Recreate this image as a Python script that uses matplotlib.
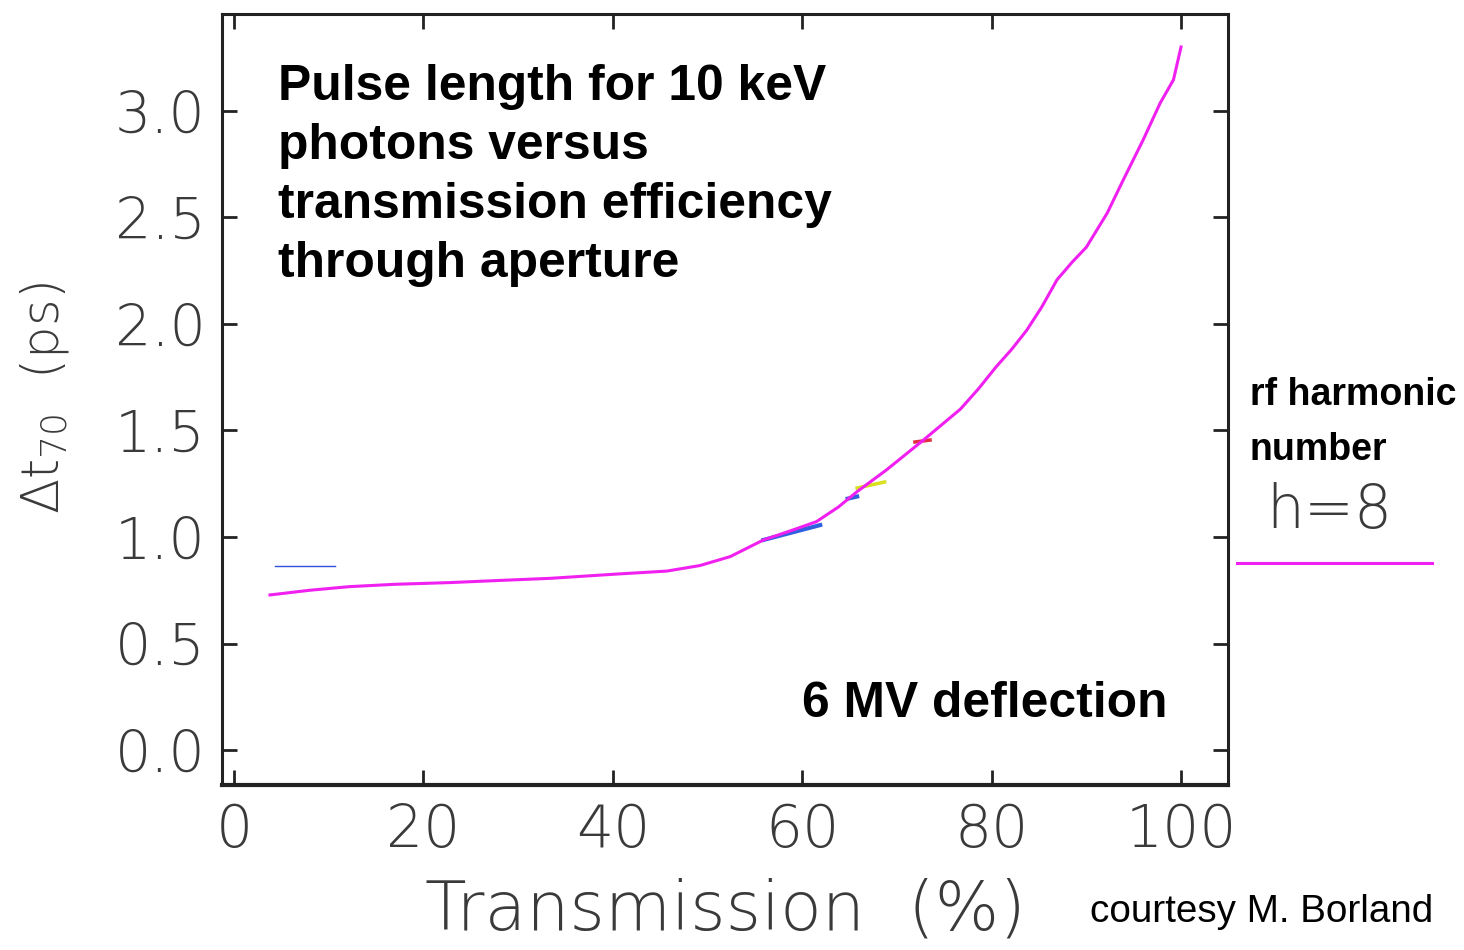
import matplotlib.pyplot as plt
from matplotlib.lines import Line2D

# pulse length vs transmission, h=8 curve
transmission = [3.8, 8, 12.2, 17, 22.8, 28, 33.4, 40.4, 45.7, 49.2, 52.4, 55.9,
                58.7, 61.5, 63.8, 65.8, 68.9, 72.8, 76.7, 78.6, 80.5, 82.1, 83.7,
                85.3, 86.9, 88.5, 90.0, 92.2, 93.9, 96.0, 97.8, 99.2, 100]
dt70 = [0.728, 0.75, 0.767, 0.778, 0.786, 0.796, 0.806, 0.826, 0.840, 0.866,
        0.908, 0.986, 1.028, 1.072, 1.14, 1.213, 1.315, 1.455, 1.60, 1.695, 1.80,
        1.88, 1.97, 2.08, 2.207, 2.29, 2.36, 2.52, 2.676, 2.864, 3.037, 3.146, 3.30]

# short pieces of the other harmonics that peek out from under the h=8 curve
blue_x = [[4.3, 10.7], [55.9, 61.9], [64.8, 65.8]]
blue_y = [[0.864, 0.864], [0.986, 1.056], [1.18, 1.19]]
yellow_x = [65.8, 68.7]
yellow_y = [1.23, 1.258]
red_x = [71.9, 73.5]
red_y = [1.446, 1.455]

xticks = [0, 20, 40, 60, 80, 100]
yticks = [0.0, 0.5, 1.0, 1.5, 2.0, 2.5, 3.0]

thin = dict(family=['DejaVu Sans'], fontweight=200, color='#3a3a3a')
bold = dict(family=['Liberation Sans', 'DejaVu Sans'], fontweight='bold', color='black')

fig = plt.figure(figsize=(14.64, 9.5), dpi=100)
ax = fig.add_axes([0.1516, 0.1737, 0.6872, 0.8116])

ax.plot(blue_x[0], blue_y[0], color='#3050e0', lw=1.0)
for bx, by in zip(blue_x[1:], blue_y[1:]):
    ax.plot(bx, by, color='#3060e0', lw=3.0)
ax.plot(yellow_x, yellow_y, color='#d8e020', lw=2.5)
ax.plot(red_x, red_y, color='#e03040', lw=2.5)
ax.plot(transmission, dt70, color='#f020f0', lw=2.2)

ax.set_xlim(-1.27, 104.96)
ax.set_ylim(-0.164, 3.455)
ax.set_xticks(xticks)
ax.set_yticks(yticks)
ax.set_xticklabels([str(v) for v in xticks], fontsize=42, **thin)
ax.set_yticklabels([f'{v:.1f}' for v in yticks], fontsize=41, **thin)
ax.tick_params(direction='in', length=11, width=2, color='#222222',
               top=True, right=True, pad=12)
for s in ax.spines.values():
    s.set_linewidth(2.2)
    s.set_color('#222222')
ax.spines['bottom'].set_linewidth(3.0)

ax.set_xlabel('Transmission  (%)', fontsize=49, **thin)
ax.xaxis.set_label_coords(0.5, -0.12)
ax.set_ylabel(r'Δt$_{\mathregular{70}}$  (ps)', fontsize=37, va='center', **thin)
ax.yaxis.set_label_coords(-0.176, 0.502)

title_lines = ['Pulse length for 10 keV', 'photons versus',
               'transmission efficiency', 'through aperture']
for i, line in enumerate(title_lines):
    fig.text(278 / 1464, 1 - (100 + 59 * i) / 950, line, ha='left', va='baseline',
             fontsize=35.8, **bold)
fig.text(1168 / 1464, 1 - 717 / 950, '6 MV deflection', ha='right', va='baseline',
         fontsize=35.8, **bold)

fig.text(1250 / 1464, 1 - 405 / 950, 'rf harmonic', ha='left', va='baseline', fontsize=27, **bold)
fig.text(1250 / 1464, 1 - 460 / 950, 'number', ha='left', va='baseline', fontsize=27, **bold)
fig.text(1329 / 1464, 1 - 528 / 950, 'h=8', ha='center', va='baseline', fontsize=43, **thin)
fig.add_artist(Line2D([1237 / 1464, 1432 / 1464], [1 - 563 / 950] * 2,
                      color='#f020f0', lw=2.2, transform=fig.transFigure))
fig.text(1433 / 1464, 1 - 922 / 950, 'courtesy M. Borland', ha='right', va='baseline',
         fontsize=27.8, family=['Liberation Sans', 'DejaVu Sans'], color='black')

fig.savefig('out.png', dpi=100, facecolor='white')
